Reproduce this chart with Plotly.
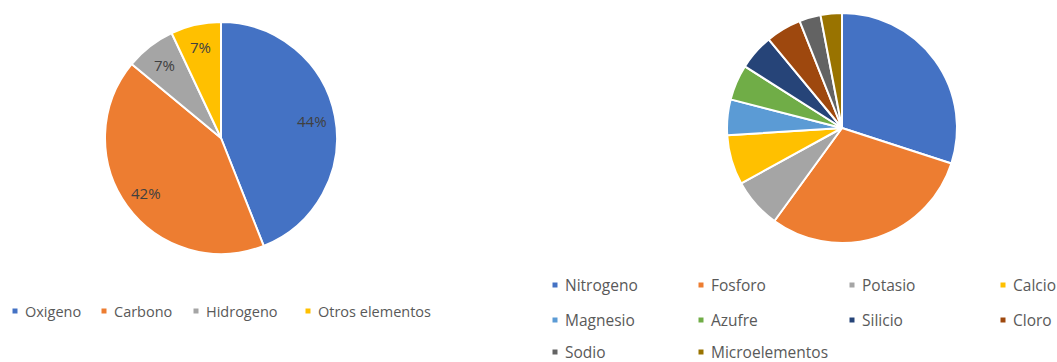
import math
import plotly.graph_objects as go

# Composition of living matter (left) and plant nutrients (right)
body_labels = ["Oxigeno", "Carbono", "Hidrogeno", "Otros elementos"]
body_values = [44, 42, 7, 7]
body_colors = ["#4472C4", "#ED7D31", "#A5A5A5", "#FFC000"]

nutrient_labels = ["Nitrogeno", "Fosforo", "Potasio", "Calcio", "Magnesio",
                   "Azufre", "Silicio", "Cloro", "Sodio", "Microelementos"]
nutrient_values = [30, 30, 7, 7, 5, 5, 5, 5, 3, 3]
nutrient_colors = ["#4472C4", "#ED7D31", "#A5A5A5", "#FFC000", "#5B9BD5",
                   "#70AD47", "#264478", "#9E480E", "#636363", "#997300"]

W, H = 1057, 362
FONT = "Open Sans"
TEXT_COLOR = "#595959"

# pie geometry in pixels: centre and radius
LEFT_CX, LEFT_CY, LEFT_R = 221, 138, 116
RIGHT_CX, RIGHT_CY, RIGHT_R = 842, 128, 115


def px_x(x):
    return x / W


def px_y(y):
    return 1 - y / H


fig = go.Figure()

fig.add_trace(go.Pie(
    labels=body_labels, values=body_values,
    marker=dict(colors=body_colors, line=dict(color="white", width=2)),
    sort=False, direction="clockwise", rotation=0,
    textinfo="none",
    domain=dict(x=[px_x(LEFT_CX - LEFT_R), px_x(LEFT_CX + LEFT_R)],
                y=[px_y(LEFT_CY + LEFT_R), px_y(LEFT_CY - LEFT_R)]),
    showlegend=False, hoverinfo="label+percent",
))

fig.add_trace(go.Pie(
    labels=nutrient_labels, values=nutrient_values,
    marker=dict(colors=nutrient_colors, line=dict(color="white", width=2)),
    sort=False, direction="clockwise", rotation=0,
    textinfo="none",
    domain=dict(x=[px_x(RIGHT_CX - RIGHT_R), px_x(RIGHT_CX + RIGHT_R)],
                y=[px_y(RIGHT_CY + RIGHT_R), px_y(RIGHT_CY - RIGHT_R)]),
    showlegend=False, hoverinfo="label+percent",
))

shapes = []
annotations = []

# percentage labels placed at the middle angle of each slice
total = sum(body_values)
cum = 0
for v in body_values:
    theta = 2 * math.pi * (cum + v / 2) / total
    cum += v
    rr = 0.8 * LEFT_R
    lx = LEFT_CX + rr * math.sin(theta)
    ly = LEFT_CY - rr * math.cos(theta)
    annotations.append(dict(
        text=f"{v / total * 100:.0f}%", xref="paper", yref="paper",
        x=px_x(lx), y=px_y(ly), xanchor="center", yanchor="middle",
        showarrow=False, font=dict(family=FONT, size=15, color="#404040"),
    ))


def legend_entry(x_marker, y_center, label, color, size):
    # small colour square followed by the category name
    shapes.append(dict(
        type="rect", xref="paper", yref="paper",
        x0=px_x(x_marker - 2.5), x1=px_x(x_marker + 2.5),
        y0=px_y(y_center + 2.5), y1=px_y(y_center - 2.5),
        fillcolor=color, line=dict(width=0),
    ))
    annotations.append(dict(
        text=label, xref="paper", yref="paper",
        x=px_x(x_marker + 8), y=px_y(y_center),
        xanchor="left", yanchor="middle", showarrow=False,
        font=dict(family=FONT, size=size, color=TEXT_COLOR),
    ))


# left legend: one row
left_marker_x = [15, 104, 196, 308]
for lx, lab, col in zip(left_marker_x, body_labels, body_colors):
    legend_entry(lx, 311, lab, col, 14.5)

# right legend: 4-column grid
col_x = [555, 701, 852, 1003]
row_y = [285, 320, 352]
for i, (lab, col) in enumerate(zip(nutrient_labels, nutrient_colors)):
    legend_entry(col_x[i % 4], row_y[i // 4], lab, col, 15.5)

fig.update_layout(
    width=W, height=H,
    margin=dict(l=0, r=0, t=0, b=0),
    paper_bgcolor="white", plot_bgcolor="white",
    shapes=shapes, annotations=annotations,
)

fig.write_html("out.html")
